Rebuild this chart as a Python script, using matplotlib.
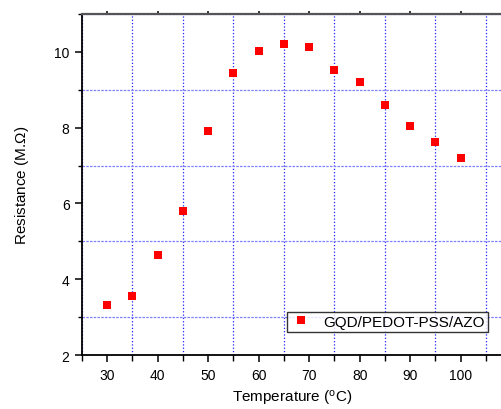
import matplotlib
matplotlib.use('Agg')
import matplotlib.pyplot as plt
from matplotlib.ticker import MultipleLocator

plt.rcParams['font.family'] = ['Liberation Sans', 'DejaVu Sans']
plt.rcParams['mathtext.fontset'] = 'custom'
plt.rcParams['mathtext.rm'] = 'Liberation Sans'
plt.rcParams['mathtext.it'] = 'Liberation Sans:italic'

# data
temperature = [30, 35, 40, 45, 50, 55, 60, 65, 70, 75, 80, 85, 90, 95, 100]
resistance = [3.32, 3.56, 4.63, 5.81, 7.92, 9.45, 10.02, 10.22, 10.12,
              9.51, 9.21, 8.61, 8.05, 7.61, 7.21]
series_label = 'GQD/PEDOT-PSS/AZO'

fig = plt.figure(figsize=(5.01, 4.10), dpi=100)
ax = fig.add_axes([0.1637, 0.1317, 0.8383, 0.8317])

ax.plot(temperature, resistance, 's', color='red', markersize=6,
        markeredgewidth=0, label=series_label)

ax.set_xlim(25, 108.2)
ax.set_ylim(2, 11)
ax.xaxis.set_major_locator(MultipleLocator(10))
ax.xaxis.set_minor_locator(MultipleLocator(5))
ax.yaxis.set_major_locator(MultipleLocator(2))
ax.yaxis.set_minor_locator(MultipleLocator(1))

# grid only on the minor positions
ax.grid(False, which='major')
ax.grid(True, which='minor', axis='x', color='#2020ff', linestyle=':', linewidth=0.9)
ax.grid(True, which='minor', axis='y', color='#8080ff', linestyle='--', linewidth=0.9,
        dashes=(2, 1))

ax.spines['right'].set_visible(False)
ax.spines['top'].set_color('#555555')
ax.spines['top'].set_linewidth(1.6)
ax.spines['left'].set_linewidth(1.3)
ax.spines['bottom'].set_linewidth(1.3)

ax.tick_params(axis='both', which='major', direction='out', length=5, width=1.1,
               labelsize=10, colors='black', pad=4)
ax.tick_params(axis='both', which='minor', direction='out', length=4, width=1.0)
ax.tick_params(axis='y', which='minor', length=3)
ax.tick_params(axis='x', which='major', top=True, labeltop=False)
ax.tick_params(axis='x', which='minor', top=False)
for t in ax.xaxis.get_major_ticks():
    t.tick2line.set_markersize(2)
    t.tick2line.set_color('#777777')

ax.set_xlabel('Temperature ($^{\\rm o}$C)', fontsize=11, labelpad=5)
ax.set_ylabel('Resistance (M.$\\mathit{\\Omega}$)', fontsize=11, labelpad=17)

leg = ax.legend(loc='lower left', bbox_to_anchor=(0.488, 0.068),
                fontsize=11, frameon=True, fancybox=False, borderpad=0.2,
                handletextpad=0.8, handlelength=1.4, borderaxespad=0)
leg.get_frame().set_edgecolor('black')
leg.get_frame().set_linewidth(1.0)

fig.savefig('out.png', dpi=100)
